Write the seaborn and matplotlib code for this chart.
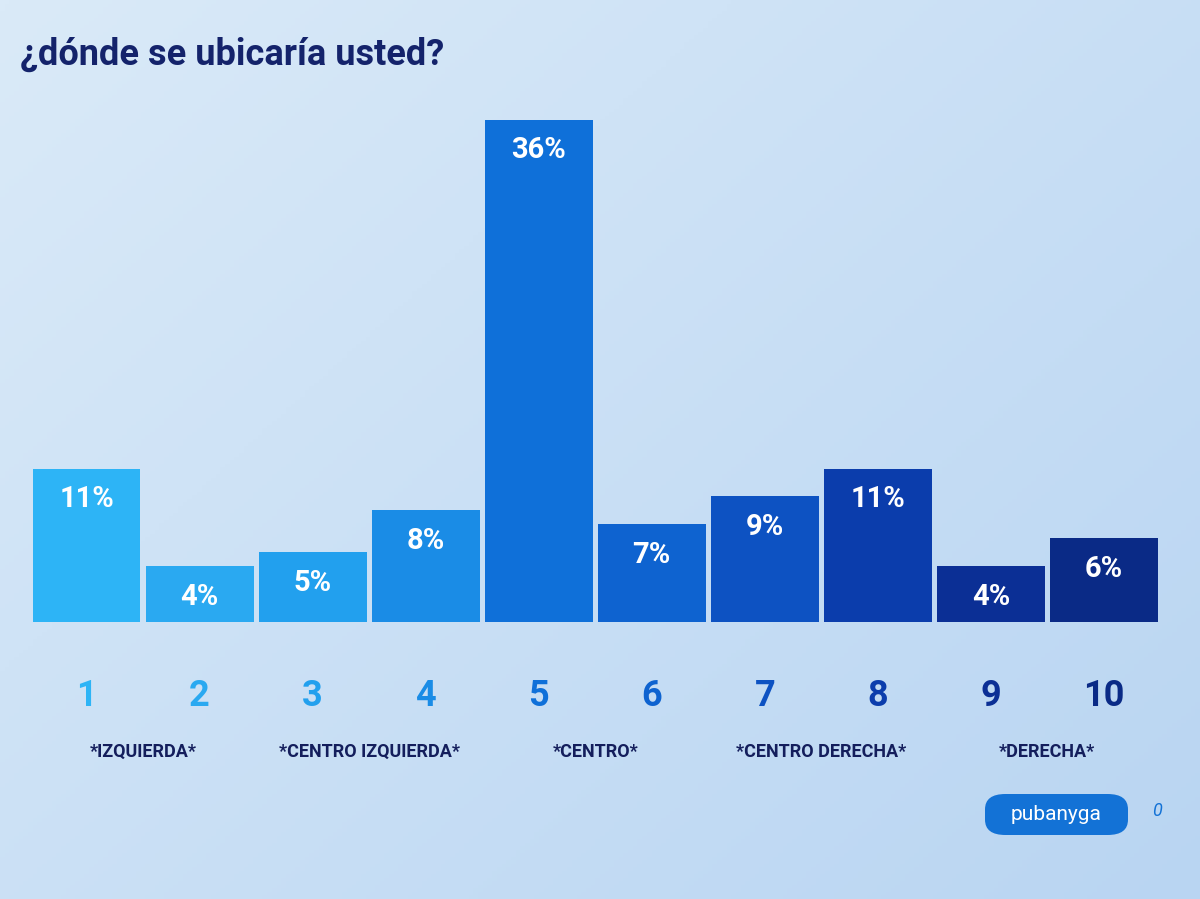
import matplotlib
matplotlib.use("Agg")
import matplotlib.pyplot as plt
import matplotlib.transforms as mtransforms
from matplotlib.patches import FancyBboxPatch
from matplotlib.colors import LinearSegmentedColormap
import numpy as np
import pandas as pd
import seaborn as sns

# ---- data ----
categories = ["1", "2", "3", "4", "5", "6", "7", "8", "9", "10"]
values = [11, 4, 5, 8, 36, 7, 9, 11, 4, 6]
bar_colors = ["#2DB4F6", "#2AA9F1", "#22A0EE", "#1A8CE6", "#0F70D9",
              "#0E63D0", "#0D52C2", "#0B3DAC", "#0B2F95", "#0A2A86"]
group_labels = ["*IZQUIERDA*", "*CENTRO IZQUIERDA*", "*CENTRO*",
                "*CENTRO DERECHA*", "*DERECHA*"]
group_positions = [0.5, 2.5, 4.5, 6.5, 8.5]
title = "¿dónde se ubicaría usted?"

sns.set_theme(style="white")
plt.rcParams["font.family"] = ["Roboto", "DejaVu Sans"]

bg = "#D2E5F7"
fig = plt.figure(figsize=(12, 8.99), dpi=100, facecolor=bg)

# soft background gradient
grad = np.linspace(0, 1, 256)
gx, gy = np.meshgrid(grad, grad)
g = 0.55 * gx + 0.45 * (1 - gy)
bgax = fig.add_axes([0, 0, 1, 1], zorder=-10)
cmap = LinearSegmentedColormap.from_list("bg", ["#DAEAF8", "#B9D5F2"])
bgax.imshow(g, cmap=cmap, aspect="auto", extent=[0, 1, 0, 1], origin="lower")
bgax.axis("off")

ax = fig.add_axes([0.025, 0.308, 0.942, 0.59])
ax.set_facecolor("none")

df = pd.DataFrame({"cat": categories, "val": values})
sns.barplot(data=df, x="cat", y="val", hue="cat", palette=bar_colors,
            legend=False, width=0.955, ax=ax, saturation=1,
            edgecolor="none", linewidth=0)

ax.set_ylim(0, 38)
ax.set_xlim(-0.5, 9.5)
ax.set_xlabel("")
ax.set_ylabel("")
ax.set_yticks([])
sns.despine(ax=ax, left=True, bottom=True)

# value labels inside bars
for i, v in enumerate(values):
    ax.text(i, v - 1.2, f"{v}%", ha="center", va="top", color="white",
            fontsize=21, fontweight="bold")

# numeric tick labels colored by bar
ax.set_xticks(range(len(categories)))
ax.set_xticklabels(categories, fontsize=26, fontweight="bold")
for lbl, c in zip(ax.get_xticklabels(), bar_colors):
    lbl.set_color(c)
ax.tick_params(axis="x", length=0, pad=40)

# group labels
trans = mtransforms.blended_transform_factory(ax.transData, fig.transFigure)
for x, lab in zip(group_positions, group_labels):
    ax.text(x, 1 - 752 / 899, lab, transform=trans, ha="center", va="center",
            fontsize=13, fontweight="bold", color="#141E5C")

# title
fig.text(0.017, 1 - 55 / 899, title, ha="left", va="center", fontsize=26,
         fontweight="bold", color="#14236B")

# logo
logo = FancyBboxPatch((985 / 1200, 1 - 835 / 899), 143 / 1200, 41 / 899,
                      boxstyle="round,pad=0,rounding_size=0.017",
                      transform=fig.transFigure, facecolor="#1372D6",
                      edgecolor="none")
fig.patches.append(logo)
fig.text(1056 / 1200, 1 - 814 / 899, "pubanyga", ha="center", va="center",
         fontsize=15, color="white")
fig.text(1157 / 1200, 1 - 811 / 899, "0", ha="center", va="center",
         fontsize=13, color="#1372D6", style="italic")

fig.savefig("out.png", dpi=100, facecolor=bg)
